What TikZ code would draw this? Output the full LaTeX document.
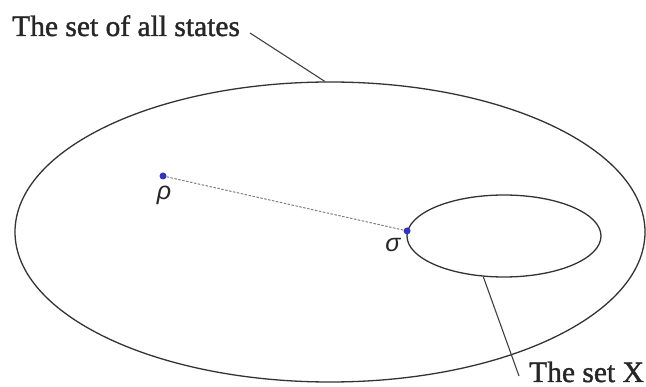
\documentclass[tikz,border=0pt]{standalone}
\usepackage{fontspec}
\setmainfont{Liberation Serif}
\newfontfamily\lblfont[FakeBold=1.3]{Liberation Serif}
\newfontfamily\greekfont{Liberation Sans}
\usetikzlibrary{shapes.geometric}
\begin{document}
\begin{tikzpicture}[x=1pt,y=-1pt,
  setline/.style={draw=black!80,line width=1.3pt},
  leader/.style={draw=black!75,line width=1.1pt},
  pt/.style={circle,fill=blue!70!black!80,inner sep=0pt,minimum size=7pt},
  lbl/.style={font=\lblfont\fontsize{29.5}{31}\selectfont,inner sep=0pt,text=black!85},
  glbl/.style={font=\greekfont\itshape\fontsize{25}{27}\selectfont,inner sep=0pt,text=black!85}]
\useasboundingbox (0,0) rectangle (646,387);
\node[ellipse,setline,minimum width=630pt,minimum height=300pt,inner sep=0pt] (big) at (330,232) {};
\node[ellipse,setline,minimum width=194pt,minimum height=82pt,inner sep=0pt] (small) at (504,236) {};
\node[lbl,anchor=base west] (all) at (12,36) {The set of all states};
\node[lbl,anchor=base west] (X) at (529,382) {The set X};
\coordinate (a1) at (250,33);
\coordinate (x1) at (519,376);
\draw[leader] (a1) -- (big.92.7);
\draw[leader] (small.243) -- (x1);
\node[pt] (rho) at (163,176) {};
\node[pt] (sigma) at (small.177) {};
\draw[gray,dashed,dash pattern=on 2.5pt off 1.5pt,line width=1pt] (rho) -- (sigma);
\node[glbl] (rholbl) at (164,195) {ρ};
\node[glbl] (sigmalbl) at (393,245) {σ};
\end{tikzpicture}
\end{document}
